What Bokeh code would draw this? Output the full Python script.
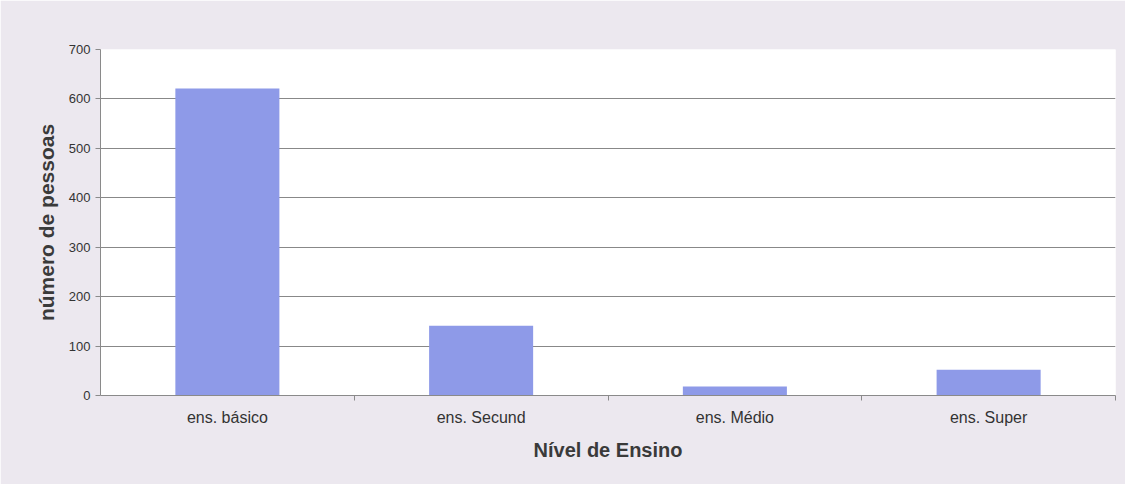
from bokeh.plotting import figure
from bokeh.models import FixedTicker, Range1d, ColumnDataSource
from bokeh.embed import file_html
from bokeh.resources import INLINE

# Number of people by level of education
categories = ["ens. básico", "ens. Secund", "ens. Médio", "ens. Super"]
pessoas = [621, 141, 18, 52]
y_ticks = [0, 100, 200, 300, 400, 500, 600, 700]

x_pos = [i + 0.5 for i in range(len(categories))]
source = ColumnDataSource(data=dict(x=x_pos, top=pessoas, cat=categories))

p = figure(width=1125, height=484, output_backend="svg", toolbar_location=None,
           x_range=Range1d(0, len(categories)), y_range=Range1d(0, 700),
           min_border_left=100, min_border_right=10, min_border_top=49,
           min_border_bottom=89)

p.background_fill_color = "white"
p.border_fill_color = "#ece8ef"
p.outline_line_color = None

p.vbar(x="x", top="top", width=0.41, source=source,
       fill_color="#8e9ae8", line_color=None)

# y axis
p.yaxis.ticker = FixedTicker(ticks=y_ticks)
p.yaxis.axis_line_color = "#8a8a8a"
p.yaxis.major_tick_line_color = "#8a8a8a"
p.yaxis.major_tick_out = 5
p.yaxis.major_tick_in = 0
p.yaxis.minor_tick_line_color = None
p.yaxis.major_label_text_font = "Liberation Sans"
p.yaxis.major_label_text_font_size = "13px"
p.yaxis.major_label_text_color = "#333333"
p.yaxis.major_label_standoff = 5
p.yaxis.axis_label = "número de pessoas"
p.yaxis.axis_label_text_font = "Liberation Sans"
p.yaxis.axis_label_text_font_style = "bold"
p.yaxis.axis_label_text_font_size = "21px"
p.yaxis.axis_label_text_color = "#3a3a3a"
p.yaxis.axis_label_standoff = 8

# x axis: labels at bar centres, tick marks between categories
p.xaxis.ticker = FixedTicker(ticks=x_pos, minor_ticks=list(range(1, len(categories) + 1)))
p.xaxis.major_label_overrides = {x: c for x, c in zip(x_pos, categories)}
p.xaxis.axis_line_color = "#8a8a8a"
p.xaxis.major_tick_line_color = None
p.xaxis.major_tick_out = 0
p.xaxis.major_tick_in = 0
p.xaxis.minor_tick_line_color = "#8a8a8a"
p.xaxis.minor_tick_out = 5
p.xaxis.minor_tick_in = 0
p.xaxis.major_label_text_font = "Liberation Sans"
p.xaxis.major_label_text_font_size = "16px"
p.xaxis.major_label_text_color = "#333333"
p.xaxis.major_label_standoff = 8
p.xaxis.axis_label = "Nível de Ensino"
p.xaxis.axis_label_text_font = "Liberation Sans"
p.xaxis.axis_label_text_font_style = "bold"
p.xaxis.axis_label_text_font_size = "20px"
p.xaxis.axis_label_text_color = "#3a3a3a"
p.xaxis.axis_label_standoff = 10

p.xgrid.grid_line_color = None
p.ygrid.ticker = FixedTicker(ticks=y_ticks)
p.ygrid.grid_line_color = "#888888"
p.ygrid.grid_line_width = 1

open("out.html", "w").write(file_html(p, INLINE))
